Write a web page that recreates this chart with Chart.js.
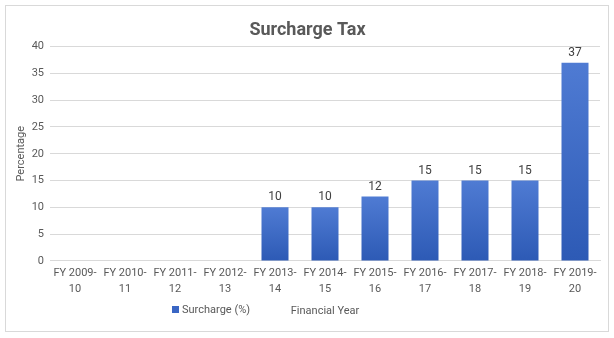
<!DOCTYPE html>
<html>
<head>
<meta charset="utf-8">
<script src="https://cdn.jsdelivr.net/npm/chart.js@4"></script>
<style>
html,body{margin:0;padding:0;background:#fff;}
#wrap{width:614px;height:338px;position:relative;}
</style>
</head>
<body>
<div id="wrap"><canvas id="c" width="614" height="338"></canvas></div>
<script>
const categories = [
  ["FY 2009-","10"],["FY 2010-","11"],["FY 2011-","12"],["FY 2012-","13"],
  ["FY 2013-","14"],["FY 2014-","15"],["FY 2015-","16"],["FY 2016-","17"],
  ["FY 2017-","18"],["FY 2018-","19"],["FY 2019-","20"]
];
const surcharge = [0, 0, 0, 0, 10, 10, 12, 15, 15, 15, 37];
const seriesLabel = "Surcharge (%)";
const yTicks = [0, 5, 10, 15, 20, 25, 30, 35, 40];

const FONT = "Roboto, 'Liberation Sans', sans-serif";
const TXT = "#595959";

function barGradient(ctx) {
  const chart = ctx.chart;
  const area = chart.chartArea;
  if (!area || ctx.type !== "data") return "#3a66c4";
  const v = ctx.raw;
  const top = chart.scales.y.getPixelForValue(v);
  const bottom = chart.scales.y.getPixelForValue(0);
  if (!(bottom > top)) return "#3a66c4";
  const g = chart.ctx.createLinearGradient(0, top, 0, bottom);
  g.addColorStop(0, "#4f7bd3");
  g.addColorStop(1, "#2d5ab5");
  return g;
}

const borderPlugin = {
  id: "frame",
  beforeDraw(chart) {
    const c = chart.ctx;
    c.save();
    c.fillStyle = "#fff";
    c.fillRect(0, 0, chart.width, chart.height);
    c.strokeStyle = "#d9d9d9";
    c.lineWidth = 1;
    c.strokeRect(5.5, 5.5, 603, 326);
    c.restore();
  }
};

const labelsPlugin = {
  id: "vals",
  afterDatasetsDraw(chart) {
    const c = chart.ctx;
    const meta = chart.getDatasetMeta(0);
    const data = chart.data.datasets[0].data;
    c.save();
    c.font = "12px " + FONT;
    c.fillStyle = "#404040";
    c.textAlign = "center";
    c.textBaseline = "bottom";
    meta.data.forEach((bar, i) => {
      if (data[i] > 0) c.fillText(String(data[i]), bar.x, bar.y - 4);
    });
    c.restore();
  }
};

const legendPlugin = {
  id: "legendRow",
  afterDraw(chart) {
    const c = chart.ctx;
    c.save();
    c.fillStyle = "#3a66c4";
    c.fillRect(172, 306, 7, 7);
    c.font = "11px " + FONT;
    c.fillStyle = TXT;
    c.textAlign = "left";
    c.textBaseline = "middle";
    c.fillText(chart.data.datasets[0].label, 182, 310);
    c.restore();
  }
};

new Chart(document.getElementById("c"), {
  type: "bar",
  data: {
    labels: categories,
    datasets: [{
      label: seriesLabel,
      data: surcharge,
      backgroundColor: barGradient,
      borderWidth: 0,
      barPercentage: 0.54,
      categoryPercentage: 1.0
    }]
  },
  options: {
    responsive: false,
    animation: false,
    layout: { padding: { left: 15, right: 14, top: 11, bottom: 20 } },
    plugins: {
      legend: { display: false },
      tooltip: { enabled: false },
      title: {
        display: true,
        text: "Surcharge Tax",
        color: TXT,
        font: { family: FONT, size: 18, weight: "bold" },
        padding: { top: 9, bottom: 5 }
      }
    },
    scales: {
      x: {
        grid: { display: false, drawTicks: false },
        border: { display: true, color: "#d9d9d9" },
        ticks: {
          color: TXT,
          font: { family: FONT, size: 11, lineHeight: 1.45 },
          padding: 4,
          maxRotation: 0,
          autoSkip: false
        },
        title: {
          display: true,
          text: "Financial Year",
          color: TXT,
          font: { family: FONT, size: 11 },
          padding: { top: 4, bottom: 0 }
        }
      },
      y: {
        min: 0,
        max: 40,
        afterBuildTicks(scale) { scale.ticks = yTicks.map(v => ({ value: v })); },
        afterFit(scale) { scale.width = 35; },
        grid: { color: "#d9d9d9", drawTicks: false },
        border: { display: false },
        ticks: {
          color: TXT,
          font: { family: FONT, size: 11 },
          padding: 6
        },
        title: {
          display: true,
          text: "Percentage",
          color: TXT,
          font: { family: FONT, size: 11 },
          padding: { top: 0, bottom: 0 }
        }
      }
    }
  },
  plugins: [borderPlugin, labelsPlugin, legendPlugin]
});
</script>
</body>
</html>
